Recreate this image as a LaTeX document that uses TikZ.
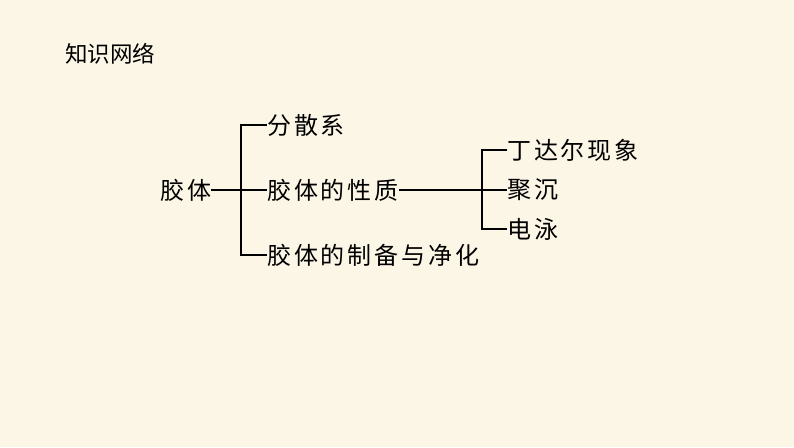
\documentclass[tikz,border=0pt]{standalone}
\usepackage{fontspec}
\newfontfamily\cjk{Noto Sans CJK SC}
\newfontfamily\cjkwide[LetterSpace=12]{Noto Sans CJK SC}
\usetikzlibrary{positioning}
\definecolor{paper}{RGB}{252,246,230}

\begin{document}
\begin{tikzpicture}[
  x=1pt, y=-1pt,
  heading/.style={inner sep=0pt, anchor=west, font=\cjk\fontsize{22.5}{23}\selectfont},
  item/.style={inner sep=0pt, anchor=west, font=\cjkwide\fontsize{24}{24}\selectfont},
  link/.style={line width=1.1pt, black}
]
\fill[paper] (0,0) rectangle (794,447);
\useasboundingbox (0,0) rectangle (794,447);

\node[heading] (title) at (65,54) {知识网络};

\node[item] (colloid) at (160,190) {胶体};
\node[item] (disperse) at (267,125) {分散系};
\node[item] (property) at (267,190) {胶体的性质};
\node[item] (prepare) at (267,255) {胶体的制备与净化};
\node[item] (tyndall) at (507,150) {丁达尔现象};
\node[item] (coagulate) at (507,190) {聚沉};
\node[item] (electro) at (507,229) {电泳};

\draw[link] (colloid.east) -- (property.west);
\draw[link] (disperse.west) -- ++(-26,0) |- (prepare.west);
\draw[link] (property.east) -- (coagulate.west);
\draw[link] (tyndall.west) -- ++(-25,0) |- (electro.west);
\end{tikzpicture}
\end{document}
